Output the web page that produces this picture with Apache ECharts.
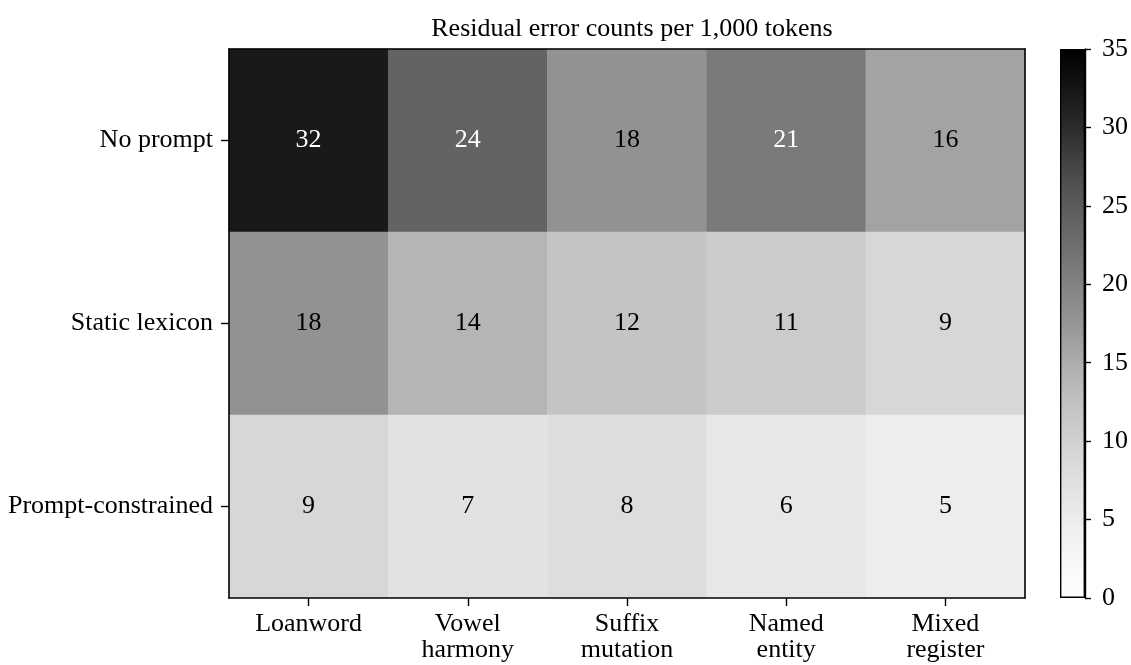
<!DOCTYPE html>
<html>
<head>
<meta charset="utf-8">
<title>Residual error counts per 1,000 tokens</title>
<script src="https://cdn.jsdelivr.net/npm/echarts@6/dist/echarts.min.js"></script>
<style>
  html, body { margin: 0; padding: 0; background: #fff; }
  #chart { width: 1131px; height: 665px; }
</style>
</head>
<body>
<div id="chart"></div>
<script>
// Error categories (columns) and prompting conditions (rows)
const categories = ['Loanword', 'Vowel\nharmony', 'Suffix\nmutation', 'Named\nentity', 'Mixed\nregister'];
const conditions = ['No prompt', 'Static lexicon', 'Prompt-constrained'];

// Residual error counts per 1,000 tokens, one array per condition
const noPrompt          = [32, 24, 18, 21, 16];
const staticLexicon     = [18, 14, 12, 11, 9];
const promptConstrained = [9, 7, 8, 6, 5];

// Colour bar range and ticks
const colorMin = 0;
const colorMax = 35;
const colorTicks = [0, 5, 10, 15, 20, 25, 30, 35];

// Sequential grey ramp (white → black)
const greys = ['#ffffff', '#f0f0f0', '#d9d9d9', '#bdbdbd', '#969696', '#737373', '#525252', '#252525', '#000000'];

const rows = [noPrompt, staticLexicon, promptConstrained];
const cells = [];
rows.forEach((vals, r) => {
  vals.forEach((v, c) => {
    cells.push({
      value: [c, r, v],
      label: { color: v > 20 ? '#ffffff' : '#000000' }
    });
  });
});

const FONT = '"Liberation Serif", "Times New Roman", serif';
const FS = 26;

const chart = echarts.init(document.getElementById('chart'), null, { renderer: 'canvas' });

const plotLeft = 229, plotRight = 106, plotTop = 49, plotBottom = 67;
const plotCenterX = plotLeft + (1131 - plotLeft - plotRight) / 2;

const frameLine = { show: true, lineStyle: { color: '#000', width: 1.6 } };

chart.setOption({
  backgroundColor: '#ffffff',
  animation: false,
  title: {
    text: 'Residual error counts per 1,000 tokens',
    left: plotCenterX,
    textAlign: 'center',
    top: 11,
    textStyle: { fontFamily: FONT, fontSize: FS, fontWeight: 'normal', color: '#000' }
  },
  grid: [
    { left: plotLeft, right: plotRight, top: plotTop, bottom: plotBottom },
    { left: 1060, width: 28, top: plotTop, bottom: plotBottom }
  ],
  xAxis: [
    {
      type: 'category', gridIndex: 0, position: 'bottom', data: categories, z: 10,
      axisLine: frameLine,
      axisTick: { show: true, alignWithLabel: true, length: 8, lineStyle: { color: '#000', width: 1.4 } },
      axisLabel: { fontFamily: FONT, fontSize: FS, color: '#000', margin: 13, lineHeight: 26, interval: 0 },
      splitLine: { show: false }
    },
    {
      type: 'category', gridIndex: 0, position: 'top', data: categories, z: 10,
      axisLine: frameLine,
      axisTick: { show: false }, axisLabel: { show: false }, splitLine: { show: false }
    },
    {
      type: 'category', gridIndex: 1, data: [''],
      axisLine: { show: false }, axisTick: { show: false }, axisLabel: { show: false }, splitLine: { show: false }
    }
  ],
  yAxis: [
    {
      type: 'category', gridIndex: 0, position: 'left', inverse: true, data: conditions, z: 10,
      axisLine: frameLine,
      axisTick: { show: true, alignWithLabel: true, length: 8, lineStyle: { color: '#000', width: 1.4 } },
      axisLabel: { fontFamily: FONT, fontSize: FS, color: '#000', margin: 16 },
      splitLine: { show: false }
    },
    {
      type: 'category', gridIndex: 0, position: 'right', inverse: true, data: conditions, z: 10,
      axisLine: frameLine,
      axisTick: { show: false }, axisLabel: { show: false }, splitLine: { show: false }
    },
    {
      type: 'value', gridIndex: 1, position: 'right', min: colorMin, max: colorMax, interval: 5, z: 10,
      axisLine: { show: true, lineStyle: { color: '#000', width: 1.4 } },
      axisTick: { show: true, length: 6, lineStyle: { color: '#000', width: 1.4 } },
      axisLabel: {
        fontFamily: FONT, fontSize: FS, color: '#000', margin: 17,
        formatter: v => (colorTicks.indexOf(v) >= 0 ? String(v) : '')
      },
      splitLine: { show: false }
    }
  ],
  visualMap: {
    show: false,
    seriesIndex: 0,
    min: colorMin,
    max: colorMax,
    dimension: 2,
    inRange: { color: greys }
  },
  series: [
    {
      type: 'heatmap',
      xAxisIndex: 0,
      yAxisIndex: 0,
      data: cells,
      label: {
        show: true,
        fontFamily: FONT,
        fontSize: FS,
        formatter: p => String(p.value[2])
      },
      itemStyle: { borderWidth: 0 },
      emphasis: { disabled: true },
      z: 1
    },
    {
      // colour bar drawn as a single gradient-filled bar spanning the full range
      type: 'bar',
      xAxisIndex: 2,
      yAxisIndex: 2,
      data: [colorMax],
      barWidth: '100%',
      silent: true,
      itemStyle: {
        color: new echarts.graphic.LinearGradient(0, 1, 0, 0,
          greys.map((c, i) => ({ offset: i / (greys.length - 1), color: c }))),
        borderColor: '#000',
        borderWidth: 1.4
      }
    }
  ]
});
</script>
</body>
</html>
